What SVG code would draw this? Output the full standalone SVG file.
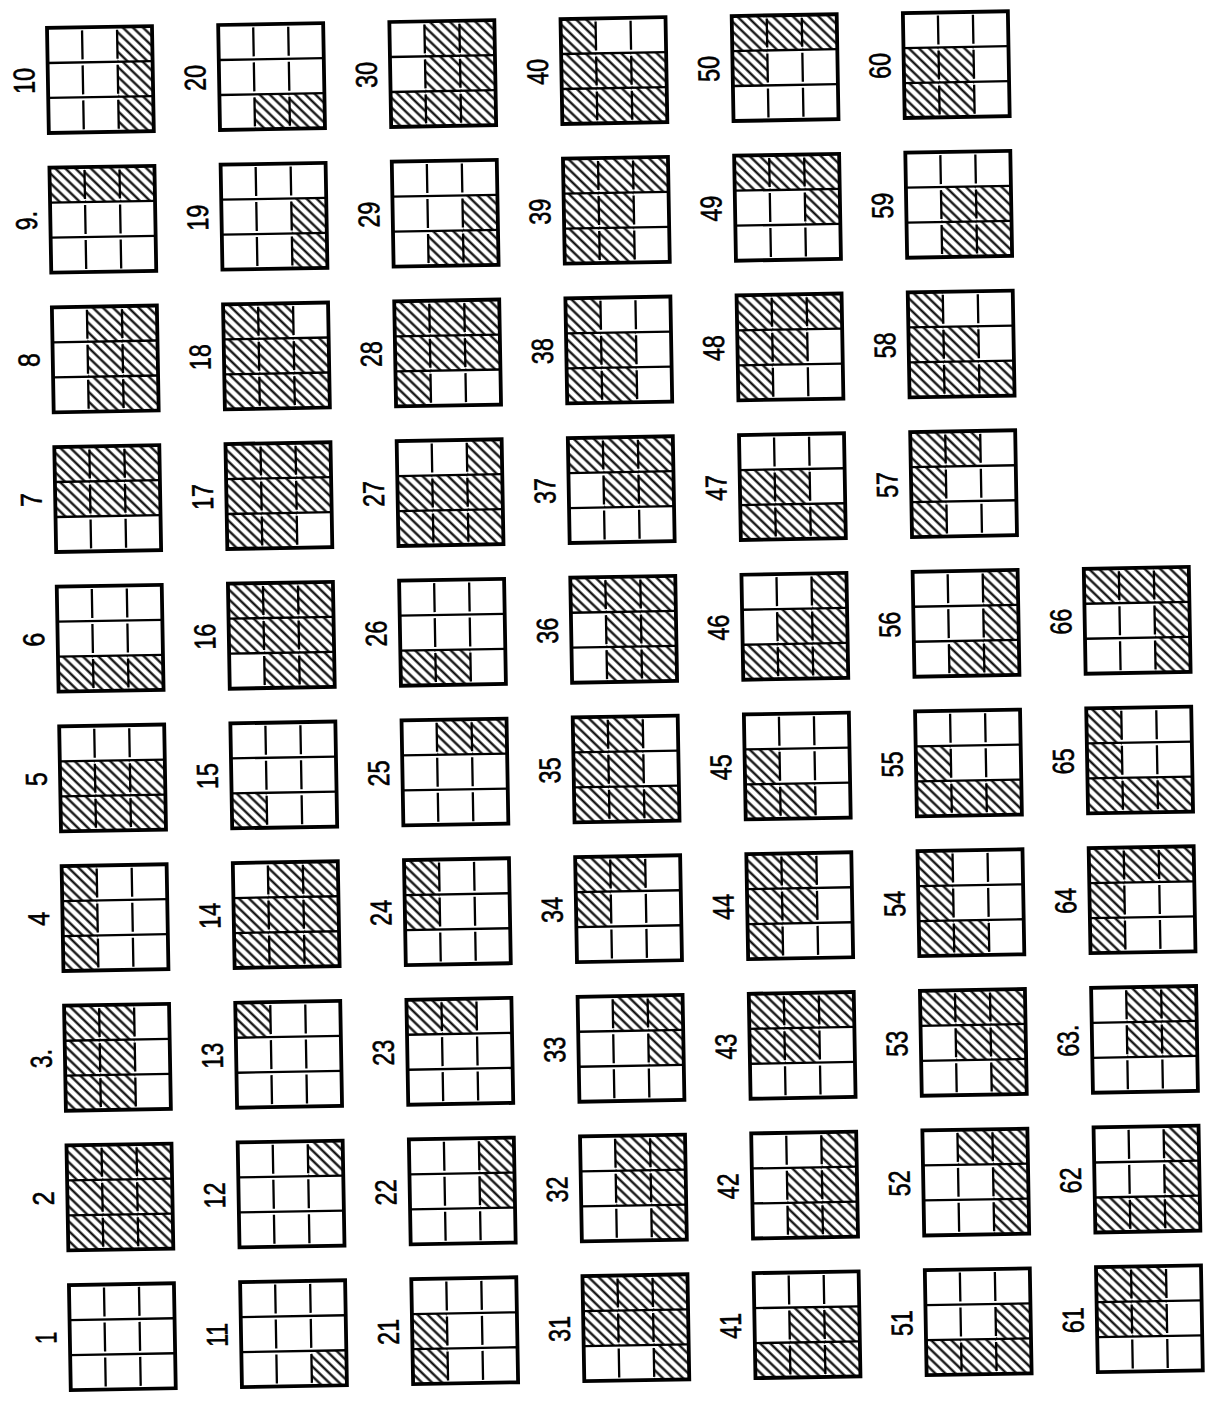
<svg xmlns="http://www.w3.org/2000/svg" xmlns:xlink="http://www.w3.org/1999/xlink" width="1208" height="1405" viewBox="0 0 1208 1405">
<style>
.lb{font-family:"Liberation Sans Narrow","Liberation Sans",Arial,sans-serif;font-size:30px;fill:#000;stroke:#000;stroke-width:0.6;text-anchor:middle;dominant-baseline:central}
.bd{fill:none;stroke:#000;stroke-width:3.8}
.ln{fill:none;stroke:#000;stroke-width:2.3}
</style>
<defs>
<pattern id="hatch" patternUnits="userSpaceOnUse" width="7" height="7" patternTransform="rotate(45)">
<line x1="-1" y1="3.5" x2="8" y2="3.5" stroke="#000" stroke-width="2.2"/>
</pattern>
<rect id="c" width="35" height="35" fill="url(#hatch)"/>
<g id="grid">
<path class="ln" d="M0 35H105M0 70H105"/>
<path class="ln" d="M35 3V32M70 3V32M35 38V67M70 38V67M35 73V102M70 73V102"/>
<rect class="bd" x="0" y="0" width="105" height="105"/>
</g>
</defs>
<rect width="1208" height="1405" fill="#fff"/>
<g transform="rotate(-1)">
<!-- column 1: 10..1 -->
<g id="n10" transform="translate(46.5 28.8)"><use href="#c" x="70"/><use href="#c" x="70" y="35"/><use href="#c" x="70" y="70"/><use href="#grid"/><text class="lb" transform="translate(-24 52.5) rotate(-90)" textLength="26" lengthAdjust="spacingAndGlyphs">10</text></g>
<g id="n9" transform="translate(46.5 168.5)"><use href="#c"/><use href="#c" x="35"/><use href="#c" x="70"/><use href="#grid"/><text class="lb" transform="translate(-24 52.5) rotate(-90)" textLength="19" lengthAdjust="spacingAndGlyphs">9.</text></g>
<g id="n8" transform="translate(46.5 308.2)"><use href="#c" x="35"/><use href="#c" x="70"/><use href="#c" x="35" y="35"/><use href="#c" x="70" y="35"/><use href="#c" x="35" y="70"/><use href="#c" x="70" y="70"/><use href="#grid"/><text class="lb" transform="translate(-24 52.5) rotate(-90)" textLength="14" lengthAdjust="spacingAndGlyphs">8</text></g>
<g id="n7" transform="translate(46.5 447.9)"><use href="#c"/><use href="#c" x="35"/><use href="#c" x="70"/><use href="#c" y="35"/><use href="#c" x="35" y="35"/><use href="#c" x="70" y="35"/><use href="#grid"/><text class="lb" transform="translate(-24 52.5) rotate(-90)" textLength="14" lengthAdjust="spacingAndGlyphs">7</text></g>
<g id="n6" transform="translate(46.5 587.6)"><use href="#c" y="70"/><use href="#c" x="35" y="70"/><use href="#c" x="70" y="70"/><use href="#grid"/><text class="lb" transform="translate(-24 52.5) rotate(-90)" textLength="14" lengthAdjust="spacingAndGlyphs">6</text></g>
<g id="n5" transform="translate(46.5 727.3)"><use href="#c" y="35"/><use href="#c" x="35" y="35"/><use href="#c" x="70" y="35"/><use href="#c" y="70"/><use href="#c" x="35" y="70"/><use href="#c" x="70" y="70"/><use href="#grid"/><text class="lb" transform="translate(-24 52.5) rotate(-90)" textLength="14" lengthAdjust="spacingAndGlyphs">5</text></g>
<g id="n4" transform="translate(46.5 867)"><use href="#c"/><use href="#c" y="35"/><use href="#c" y="70"/><use href="#grid"/><text class="lb" transform="translate(-24 52.5) rotate(-90)" textLength="14" lengthAdjust="spacingAndGlyphs">4</text></g>
<g id="n3" transform="translate(46.5 1006.7)"><use href="#c"/><use href="#c" x="35"/><use href="#c" y="35"/><use href="#c" x="35" y="35"/><use href="#c" y="70"/><use href="#c" x="35" y="70"/><use href="#grid"/><text class="lb" transform="translate(-24 52.5) rotate(-90)" textLength="19" lengthAdjust="spacingAndGlyphs">3.</text></g>
<g id="n2" transform="translate(46.5 1146.4)"><use href="#c"/><use href="#c" x="35"/><use href="#c" x="70"/><use href="#c" y="35"/><use href="#c" x="35" y="35"/><use href="#c" x="70" y="35"/><use href="#c" y="70"/><use href="#c" x="35" y="70"/><use href="#c" x="70" y="70"/><use href="#grid"/><text class="lb" transform="translate(-24 52.5) rotate(-90)" textLength="14" lengthAdjust="spacingAndGlyphs">2</text></g>
<g id="n1" transform="translate(46.5 1286.1)"><use href="#grid"/><text class="lb" transform="translate(-24 52.5) rotate(-90)" textLength="12" lengthAdjust="spacingAndGlyphs">1</text></g>
<!-- column 2: 20..11 -->
<g id="n20" transform="translate(217.7 28.8)"><use href="#c" x="35" y="70"/><use href="#c" x="70" y="70"/><use href="#grid"/><text class="lb" transform="translate(-24 52.5) rotate(-90)" textLength="26" lengthAdjust="spacingAndGlyphs">20</text></g>
<g id="n19" transform="translate(217.7 168.5)"><use href="#c" x="70" y="35"/><use href="#c" x="70" y="70"/><use href="#grid"/><text class="lb" transform="translate(-24 52.5) rotate(-90)" textLength="26" lengthAdjust="spacingAndGlyphs">19</text></g>
<g id="n18" transform="translate(217.7 308.2)"><use href="#c"/><use href="#c" x="35"/><use href="#c" y="35"/><use href="#c" x="35" y="35"/><use href="#c" x="70" y="35"/><use href="#c" y="70"/><use href="#c" x="35" y="70"/><use href="#c" x="70" y="70"/><use href="#grid"/><text class="lb" transform="translate(-24 52.5) rotate(-90)" textLength="26" lengthAdjust="spacingAndGlyphs">18</text></g>
<g id="n17" transform="translate(217.7 447.9)"><use href="#c"/><use href="#c" x="35"/><use href="#c" x="70"/><use href="#c" y="35"/><use href="#c" x="35" y="35"/><use href="#c" x="70" y="35"/><use href="#c" y="70"/><use href="#c" x="35" y="70"/><use href="#grid"/><text class="lb" transform="translate(-24 52.5) rotate(-90)" textLength="26" lengthAdjust="spacingAndGlyphs">17</text></g>
<g id="n16" transform="translate(217.7 587.6)"><use href="#c"/><use href="#c" x="35"/><use href="#c" x="70"/><use href="#c" y="35"/><use href="#c" x="35" y="35"/><use href="#c" x="70" y="35"/><use href="#c" x="35" y="70"/><use href="#c" x="70" y="70"/><use href="#grid"/><text class="lb" transform="translate(-24 52.5) rotate(-90)" textLength="26" lengthAdjust="spacingAndGlyphs">16</text></g>
<g id="n15" transform="translate(217.7 727.3)"><use href="#c" y="70"/><use href="#grid"/><text class="lb" transform="translate(-24 52.5) rotate(-90)" textLength="26" lengthAdjust="spacingAndGlyphs">15</text></g>
<g id="n14" transform="translate(217.7 867)"><use href="#c" x="35"/><use href="#c" x="70"/><use href="#c" y="35"/><use href="#c" x="35" y="35"/><use href="#c" x="70" y="35"/><use href="#c" y="70"/><use href="#c" x="35" y="70"/><use href="#c" x="70" y="70"/><use href="#grid"/><text class="lb" transform="translate(-24 52.5) rotate(-90)" textLength="26" lengthAdjust="spacingAndGlyphs">14</text></g>
<g id="n13" transform="translate(217.7 1006.7)"><use href="#c"/><use href="#grid"/><text class="lb" transform="translate(-24 52.5) rotate(-90)" textLength="26" lengthAdjust="spacingAndGlyphs">13</text></g>
<g id="n12" transform="translate(217.7 1146.4)"><use href="#c" x="70"/><use href="#grid"/><text class="lb" transform="translate(-24 52.5) rotate(-90)" textLength="26" lengthAdjust="spacingAndGlyphs">12</text></g>
<g id="n11" transform="translate(217.7 1286.1)"><use href="#c" x="70" y="70"/><use href="#grid"/><text class="lb" transform="translate(-24 52.5) rotate(-90)" textLength="24" lengthAdjust="spacingAndGlyphs">11</text></g>
<!-- column 3: 30..21 -->
<g id="n30" transform="translate(388.9 28.8)"><use href="#c" x="35"/><use href="#c" x="70"/><use href="#c" x="35" y="35"/><use href="#c" x="70" y="35"/><use href="#c" y="70"/><use href="#c" x="35" y="70"/><use href="#c" x="70" y="70"/><use href="#grid"/><text class="lb" transform="translate(-24 52.5) rotate(-90)" textLength="26" lengthAdjust="spacingAndGlyphs">30</text></g>
<g id="n29" transform="translate(388.9 168.5)"><use href="#c" x="70" y="35"/><use href="#c" x="35" y="70"/><use href="#c" x="70" y="70"/><use href="#grid"/><text class="lb" transform="translate(-24 52.5) rotate(-90)" textLength="26" lengthAdjust="spacingAndGlyphs">29</text></g>
<g id="n28" transform="translate(388.9 308.2)"><use href="#c"/><use href="#c" x="35"/><use href="#c" x="70"/><use href="#c" y="35"/><use href="#c" x="35" y="35"/><use href="#c" x="70" y="35"/><use href="#c" y="70"/><use href="#grid"/><text class="lb" transform="translate(-24 52.5) rotate(-90)" textLength="26" lengthAdjust="spacingAndGlyphs">28</text></g>
<g id="n27" transform="translate(388.9 447.9)"><use href="#c" x="70"/><use href="#c" y="35"/><use href="#c" x="35" y="35"/><use href="#c" x="70" y="35"/><use href="#c" y="70"/><use href="#c" x="35" y="70"/><use href="#c" x="70" y="70"/><use href="#grid"/><text class="lb" transform="translate(-24 52.5) rotate(-90)" textLength="26" lengthAdjust="spacingAndGlyphs">27</text></g>
<g id="n26" transform="translate(388.9 587.6)"><use href="#c" y="70"/><use href="#c" x="35" y="70"/><use href="#grid"/><text class="lb" transform="translate(-24 52.5) rotate(-90)" textLength="26" lengthAdjust="spacingAndGlyphs">26</text></g>
<g id="n25" transform="translate(388.9 727.3)"><use href="#c" x="35"/><use href="#c" x="70"/><use href="#grid"/><text class="lb" transform="translate(-24 52.5) rotate(-90)" textLength="26" lengthAdjust="spacingAndGlyphs">25</text></g>
<g id="n24" transform="translate(388.9 867)"><use href="#c"/><use href="#c" y="35"/><use href="#grid"/><text class="lb" transform="translate(-24 52.5) rotate(-90)" textLength="26" lengthAdjust="spacingAndGlyphs">24</text></g>
<g id="n23" transform="translate(388.9 1006.7)"><use href="#c"/><use href="#c" x="35"/><use href="#grid"/><text class="lb" transform="translate(-24 52.5) rotate(-90)" textLength="26" lengthAdjust="spacingAndGlyphs">23</text></g>
<g id="n22" transform="translate(388.9 1146.4)"><use href="#c" x="70"/><use href="#c" x="70" y="35"/><use href="#grid"/><text class="lb" transform="translate(-24 52.5) rotate(-90)" textLength="26" lengthAdjust="spacingAndGlyphs">22</text></g>
<g id="n21" transform="translate(388.9 1286.1)"><use href="#c" y="35"/><use href="#c" y="70"/><use href="#grid"/><text class="lb" transform="translate(-24 52.5) rotate(-90)" textLength="26" lengthAdjust="spacingAndGlyphs">21</text></g>
<!-- column 4: 40..31 -->
<g id="n40" transform="translate(560.1 28.8)"><use href="#c"/><use href="#c" y="35"/><use href="#c" x="35" y="35"/><use href="#c" x="70" y="35"/><use href="#c" y="70"/><use href="#c" x="35" y="70"/><use href="#c" x="70" y="70"/><use href="#grid"/><text class="lb" transform="translate(-24 52.5) rotate(-90)" textLength="26" lengthAdjust="spacingAndGlyphs">40</text></g>
<g id="n39" transform="translate(560.1 168.5)"><use href="#c"/><use href="#c" x="35"/><use href="#c" x="70"/><use href="#c" y="35"/><use href="#c" x="35" y="35"/><use href="#c" y="70"/><use href="#c" x="35" y="70"/><use href="#grid"/><text class="lb" transform="translate(-24 52.5) rotate(-90)" textLength="26" lengthAdjust="spacingAndGlyphs">39</text></g>
<g id="n38" transform="translate(560.1 308.2)"><use href="#c"/><use href="#c" y="35"/><use href="#c" x="35" y="35"/><use href="#c" y="70"/><use href="#c" x="35" y="70"/><use href="#grid"/><text class="lb" transform="translate(-24 52.5) rotate(-90)" textLength="26" lengthAdjust="spacingAndGlyphs">38</text></g>
<g id="n37" transform="translate(560.1 447.9)"><use href="#c"/><use href="#c" x="35"/><use href="#c" x="70"/><use href="#c" x="35" y="35"/><use href="#c" x="70" y="35"/><use href="#grid"/><text class="lb" transform="translate(-24 52.5) rotate(-90)" textLength="26" lengthAdjust="spacingAndGlyphs">37</text></g>
<g id="n36" transform="translate(560.1 587.6)"><use href="#c"/><use href="#c" x="35"/><use href="#c" x="70"/><use href="#c" x="35" y="35"/><use href="#c" x="70" y="35"/><use href="#c" x="35" y="70"/><use href="#c" x="70" y="70"/><use href="#grid"/><text class="lb" transform="translate(-24 52.5) rotate(-90)" textLength="26" lengthAdjust="spacingAndGlyphs">36</text></g>
<g id="n35" transform="translate(560.1 727.3)"><use href="#c"/><use href="#c" x="35"/><use href="#c" y="35"/><use href="#c" x="35" y="35"/><use href="#c" y="70"/><use href="#c" x="35" y="70"/><use href="#c" x="70" y="70"/><use href="#grid"/><text class="lb" transform="translate(-24 52.5) rotate(-90)" textLength="26" lengthAdjust="spacingAndGlyphs">35</text></g>
<g id="n34" transform="translate(560.1 867)"><use href="#c"/><use href="#c" x="35"/><use href="#c" y="35"/><use href="#grid"/><text class="lb" transform="translate(-24 52.5) rotate(-90)" textLength="26" lengthAdjust="spacingAndGlyphs">34</text></g>
<g id="n33" transform="translate(560.1 1006.7)"><use href="#c" x="35"/><use href="#c" x="70"/><use href="#c" x="70" y="35"/><use href="#grid"/><text class="lb" transform="translate(-24 52.5) rotate(-90)" textLength="26" lengthAdjust="spacingAndGlyphs">33</text></g>
<g id="n32" transform="translate(560.1 1146.4)"><use href="#c" x="35"/><use href="#c" x="70"/><use href="#c" x="35" y="35"/><use href="#c" x="70" y="35"/><use href="#c" x="70" y="70"/><use href="#grid"/><text class="lb" transform="translate(-24 52.5) rotate(-90)" textLength="26" lengthAdjust="spacingAndGlyphs">32</text></g>
<g id="n31" transform="translate(560.1 1286.1)"><use href="#c"/><use href="#c" x="35"/><use href="#c" x="70"/><use href="#c" y="35"/><use href="#c" x="35" y="35"/><use href="#c" x="70" y="35"/><use href="#c" x="70" y="70"/><use href="#grid"/><text class="lb" transform="translate(-24 52.5) rotate(-90)" textLength="26" lengthAdjust="spacingAndGlyphs">31</text></g>
<!-- column 5: 50..41 -->
<g id="n50" transform="translate(731.3 28.8)"><use href="#c"/><use href="#c" x="35"/><use href="#c" x="70"/><use href="#c" y="35"/><use href="#grid"/><text class="lb" transform="translate(-24 52.5) rotate(-90)" textLength="26" lengthAdjust="spacingAndGlyphs">50</text></g>
<g id="n49" transform="translate(731.3 168.5)"><use href="#c"/><use href="#c" x="35"/><use href="#c" x="70"/><use href="#c" x="70" y="35"/><use href="#grid"/><text class="lb" transform="translate(-24 52.5) rotate(-90)" textLength="26" lengthAdjust="spacingAndGlyphs">49</text></g>
<g id="n48" transform="translate(731.3 308.2)"><use href="#c"/><use href="#c" x="35"/><use href="#c" x="70"/><use href="#c" y="35"/><use href="#c" x="35" y="35"/><use href="#c" y="70"/><use href="#grid"/><text class="lb" transform="translate(-24 52.5) rotate(-90)" textLength="26" lengthAdjust="spacingAndGlyphs">48</text></g>
<g id="n47" transform="translate(731.3 447.9)"><use href="#c" y="35"/><use href="#c" x="35" y="35"/><use href="#c" y="70"/><use href="#c" x="35" y="70"/><use href="#c" x="70" y="70"/><use href="#grid"/><text class="lb" transform="translate(-24 52.5) rotate(-90)" textLength="26" lengthAdjust="spacingAndGlyphs">47</text></g>
<g id="n46" transform="translate(731.3 587.6)"><use href="#c" x="70"/><use href="#c" x="35" y="35"/><use href="#c" x="70" y="35"/><use href="#c" y="70"/><use href="#c" x="35" y="70"/><use href="#c" x="70" y="70"/><use href="#grid"/><text class="lb" transform="translate(-24 52.5) rotate(-90)" textLength="26" lengthAdjust="spacingAndGlyphs">46</text></g>
<g id="n45" transform="translate(731.3 727.3)"><use href="#c" y="35"/><use href="#c" y="70"/><use href="#c" x="35" y="70"/><use href="#grid"/><text class="lb" transform="translate(-24 52.5) rotate(-90)" textLength="26" lengthAdjust="spacingAndGlyphs">45</text></g>
<g id="n44" transform="translate(731.3 867)"><use href="#c"/><use href="#c" x="35"/><use href="#c" y="35"/><use href="#c" x="35" y="35"/><use href="#c" y="70"/><use href="#grid"/><text class="lb" transform="translate(-24 52.5) rotate(-90)" textLength="26" lengthAdjust="spacingAndGlyphs">44</text></g>
<g id="n43" transform="translate(731.3 1006.7)"><use href="#c"/><use href="#c" x="35"/><use href="#c" x="70"/><use href="#c" y="35"/><use href="#c" x="35" y="35"/><use href="#grid"/><text class="lb" transform="translate(-24 52.5) rotate(-90)" textLength="26" lengthAdjust="spacingAndGlyphs">43</text></g>
<g id="n42" transform="translate(731.3 1146.4)"><use href="#c" x="70"/><use href="#c" x="35" y="35"/><use href="#c" x="70" y="35"/><use href="#c" x="35" y="70"/><use href="#c" x="70" y="70"/><use href="#grid"/><text class="lb" transform="translate(-24 52.5) rotate(-90)" textLength="26" lengthAdjust="spacingAndGlyphs">42</text></g>
<g id="n41" transform="translate(731.3 1286.1)"><use href="#c" x="35" y="35"/><use href="#c" x="70" y="35"/><use href="#c" y="70"/><use href="#c" x="35" y="70"/><use href="#c" x="70" y="70"/><use href="#grid"/><text class="lb" transform="translate(-24 52.5) rotate(-90)" textLength="26" lengthAdjust="spacingAndGlyphs">41</text></g>
<!-- column 6: 60..51 -->
<g id="n60" transform="translate(902.5 28.8)"><use href="#c" y="35"/><use href="#c" x="35" y="35"/><use href="#c" y="70"/><use href="#c" x="35" y="70"/><use href="#grid"/><text class="lb" transform="translate(-24 52.5) rotate(-90)" textLength="26" lengthAdjust="spacingAndGlyphs">60</text></g>
<g id="n59" transform="translate(902.5 168.5)"><use href="#c" x="35" y="35"/><use href="#c" x="70" y="35"/><use href="#c" x="35" y="70"/><use href="#c" x="70" y="70"/><use href="#grid"/><text class="lb" transform="translate(-24 52.5) rotate(-90)" textLength="26" lengthAdjust="spacingAndGlyphs">59</text></g>
<g id="n58" transform="translate(902.5 308.2)"><use href="#c"/><use href="#c" y="35"/><use href="#c" x="35" y="35"/><use href="#c" y="70"/><use href="#c" x="35" y="70"/><use href="#c" x="70" y="70"/><use href="#grid"/><text class="lb" transform="translate(-24 52.5) rotate(-90)" textLength="26" lengthAdjust="spacingAndGlyphs">58</text></g>
<g id="n57" transform="translate(902.5 447.9)"><use href="#c"/><use href="#c" x="35"/><use href="#c" y="35"/><use href="#c" y="70"/><use href="#grid"/><text class="lb" transform="translate(-24 52.5) rotate(-90)" textLength="26" lengthAdjust="spacingAndGlyphs">57</text></g>
<g id="n56" transform="translate(902.5 587.6)"><use href="#c" x="70"/><use href="#c" x="70" y="35"/><use href="#c" x="35" y="70"/><use href="#c" x="70" y="70"/><use href="#grid"/><text class="lb" transform="translate(-24 52.5) rotate(-90)" textLength="26" lengthAdjust="spacingAndGlyphs">56</text></g>
<g id="n55" transform="translate(902.5 727.3)"><use href="#c" y="35"/><use href="#c" y="70"/><use href="#c" x="35" y="70"/><use href="#c" x="70" y="70"/><use href="#grid"/><text class="lb" transform="translate(-24 52.5) rotate(-90)" textLength="26" lengthAdjust="spacingAndGlyphs">55</text></g>
<g id="n54" transform="translate(902.5 867)"><use href="#c"/><use href="#c" y="35"/><use href="#c" y="70"/><use href="#c" x="35" y="70"/><use href="#grid"/><text class="lb" transform="translate(-24 52.5) rotate(-90)" textLength="26" lengthAdjust="spacingAndGlyphs">54</text></g>
<g id="n53" transform="translate(902.5 1006.7)"><use href="#c"/><use href="#c" x="35"/><use href="#c" x="70"/><use href="#c" x="35" y="35"/><use href="#c" x="70" y="35"/><use href="#c" x="70" y="70"/><use href="#grid"/><text class="lb" transform="translate(-24 52.5) rotate(-90)" textLength="26" lengthAdjust="spacingAndGlyphs">53</text></g>
<g id="n52" transform="translate(902.5 1146.4)"><use href="#c" x="35"/><use href="#c" x="70"/><use href="#c" x="70" y="35"/><use href="#c" x="70" y="70"/><use href="#grid"/><text class="lb" transform="translate(-24 52.5) rotate(-90)" textLength="26" lengthAdjust="spacingAndGlyphs">52</text></g>
<g id="n51" transform="translate(902.5 1286.1)"><use href="#c" x="70" y="35"/><use href="#c" y="70"/><use href="#c" x="35" y="70"/><use href="#c" x="70" y="70"/><use href="#grid"/><text class="lb" transform="translate(-24 52.5) rotate(-90)" textLength="26" lengthAdjust="spacingAndGlyphs">51</text></g>
<!-- column 7: 66..61 -->
<g id="n66" transform="translate(1073.7 587.6)"><use href="#c"/><use href="#c" x="35"/><use href="#c" x="70"/><use href="#c" x="70" y="35"/><use href="#c" x="70" y="70"/><use href="#grid"/><text class="lb" transform="translate(-24 52.5) rotate(-90)" textLength="26" lengthAdjust="spacingAndGlyphs">66</text></g>
<g id="n65" transform="translate(1073.7 727.3)"><use href="#c"/><use href="#c" y="35"/><use href="#c" y="70"/><use href="#c" x="35" y="70"/><use href="#c" x="70" y="70"/><use href="#grid"/><text class="lb" transform="translate(-24 52.5) rotate(-90)" textLength="26" lengthAdjust="spacingAndGlyphs">65</text></g>
<g id="n64" transform="translate(1073.7 867)"><use href="#c"/><use href="#c" x="35"/><use href="#c" x="70"/><use href="#c" y="35"/><use href="#c" y="70"/><use href="#grid"/><text class="lb" transform="translate(-24 52.5) rotate(-90)" textLength="26" lengthAdjust="spacingAndGlyphs">64</text></g>
<g id="n63" transform="translate(1073.7 1006.7)"><use href="#c" x="35"/><use href="#c" x="70"/><use href="#c" x="35" y="35"/><use href="#c" x="70" y="35"/><use href="#grid"/><text class="lb" transform="translate(-24 52.5) rotate(-90)" textLength="32" lengthAdjust="spacingAndGlyphs">63.</text></g>
<g id="n62" transform="translate(1073.7 1146.4)"><use href="#c" x="70"/><use href="#c" x="70" y="35"/><use href="#c" y="70"/><use href="#c" x="35" y="70"/><use href="#c" x="70" y="70"/><use href="#grid"/><text class="lb" transform="translate(-24 52.5) rotate(-90)" textLength="26" lengthAdjust="spacingAndGlyphs">62</text></g>
<g id="n61" transform="translate(1073.7 1286.1)"><use href="#c"/><use href="#c" x="35"/><use href="#c" y="35"/><use href="#c" x="35" y="35"/><use href="#grid"/><text class="lb" transform="translate(-24 52.5) rotate(-90)" textLength="26" lengthAdjust="spacingAndGlyphs">61</text></g>
<g id="connectors"/>
</g>
</svg>
